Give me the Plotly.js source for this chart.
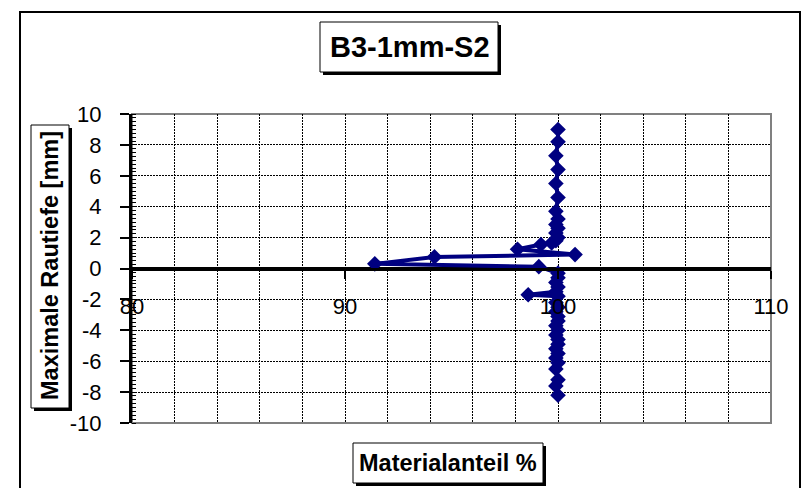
<!DOCTYPE html>
<html>
<head>
<meta charset="utf-8">
<script src="https://cdn.plot.ly/plotly-3.0.1.min.js"></script>
<style>html,body{margin:0;padding:0;background:#fff;}#chart{width:803px;height:488px;}</style>
</head>
<body>
<div id="chart"></div>
<script>
// ---- data ----
const chartTitle = "B3-1mm-S2";
const xTitle = "Materialanteil %";
const yTitle = "Maximale Rautiefe [mm]";
const xRange = [80, 110];
const yRange = [-10, 10];
const xTickVals = [80, 90, 100, 110];
const xTickText = ["80", "90", "100", "110"];
const yTickVals = [-10, -8, -6, -4, -2, 0, 2, 4, 6, 8, 10];
const yTickText = ["-10", "-8", "-6", "-4", "-2", "0", "2", "4", "6", "8", "10"];
const materialanteil = [
  100.0, 100.0, 99.9, 100.0, 99.9, 100.0, 99.9, 100.0, 99.9, 100.0, 99.9, 100.0, 99.9, 99.7, 99.2, 98.1,
  100.8, 94.2, 91.4, 99.1,
  100.0, 100.0, 99.9, 100.0, 99.9, 98.6, 100.0, 99.9, 100.0, 99.9, 100.0, 100.0, 99.9, 100.0, 99.9,
  100.0, 100.0, 99.9, 100.0, 99.9, 100.0, 99.9, 100.0, 99.9, 100.0
];
const rautiefe = [
  9.0, 8.2, 7.3, 6.4, 5.5, 4.6, 3.7, 3.2, 2.85, 2.6, 2.3, 2.0, 1.8, 1.65, 1.55, 1.25,
  0.9, 0.75, 0.3, 0.12,
  -0.3, -0.6, -0.9, -1.2, -1.5, -1.7, -1.8, -2.2, -2.5, -2.8, -3.1, -3.4, -3.7, -4.0, -4.3,
  -4.6, -4.9, -5.2, -5.5, -5.8, -6.1, -6.5, -7.2, -7.6, -8.2
];

// ---- layout helpers (pixel -> paper) ----
const W = 803, H = 488;
const M = {l: 132, r: 32, t: 114, b: 65};
const PW = W - M.l - M.r, PH = H - M.t - M.b;
const px = v => (v - M.l) / PW;
const py = v => (H - M.b - v) / PH;
const FONT = "Liberation Sans, Arial, sans-serif";
const GRID_DASH = '2px,1px';

function box(x0, y0, x1, y1, sh) {
  return [
    {type: 'rect', xref: 'paper', yref: 'paper', layer: 'above',
     x0: px(x0 + sh), x1: px(x1 + sh), y0: py(y0 + sh), y1: py(y1 + sh),
     fillcolor: '#000', line: {color: '#000', width: 0}},
    {type: 'rect', xref: 'paper', yref: 'paper', layer: 'above',
     x0: px(x0), x1: px(x1), y0: py(y0), y1: py(y1),
     fillcolor: '#fff', line: {color: '#000', width: 1}}
  ];
}

const shapes = [
  {type: 'rect', xref: 'paper', yref: 'paper', layer: 'below',
   x0: px(20), x1: px(800), y0: py(495), y1: py(12),
   line: {color: '#000', width: 2}, fillcolor: 'rgba(0,0,0,0)'},
  {type: 'rect', xref: 'paper', yref: 'paper', layer: 'below',
   x0: 0, x1: 1, y0: 0, y1: 1, line: {color: '#808080', width: 2}, fillcolor: 'rgba(0,0,0,0)'},
  ...box(320, 22, 498, 72, 3),
  ...box(353, 443, 543, 483, 3),
  ...box(31, 125, 69, 408, 3)
];

const annotations = [
  {text: '<b>' + chartTitle + '</b>', xref: 'paper', yref: 'paper', x: px(410), y: py(47),
   xanchor: 'center', yanchor: 'middle', showarrow: false, font: {family: FONT, size: 29, color: '#000'}},
  {text: '<b>' + xTitle + '</b>', xref: 'paper', yref: 'paper', x: px(448), y: py(463),
   xanchor: 'center', yanchor: 'middle', showarrow: false, font: {family: FONT, size: 23.5, color: '#000'}},
  {text: '<b>' + yTitle + '</b>', xref: 'paper', yref: 'paper', x: px(50), y: py(266), textangle: -90,
   xanchor: 'center', yanchor: 'middle', showarrow: false, font: {family: FONT, size: 23.5, color: '#000'}}
];

const trace = {
  x: materialanteil, y: rautiefe, type: 'scatter', mode: 'lines+markers',
  line: {color: '#000080', width: 4},
  marker: {symbol: 'diamond', size: 12, color: '#000080'},
  cliponaxis: false, hoverinfo: 'skip'
};

const layout = {
  width: W, height: H,
  margin: M,
  paper_bgcolor: '#fff', plot_bgcolor: '#fff',
  showlegend: false,
  font: {family: FONT, color: '#000'},
  xaxis: {
    range: xRange, tickmode: 'array', tickvals: xTickVals, ticktext: xTickText,
    anchor: 'free', position: 0.5,
    showline: true, linecolor: '#000', linewidth: 3,
    ticks: 'outside', ticklen: 8, tickwidth: 2, tickcolor: '#000',
    ticklabelstandoff: 9,
    tickfont: {family: FONT, size: 22, color: '#000'},
    showgrid: true, gridcolor: '#000', gridwidth: 1, griddash: GRID_DASH,
    zeroline: false,
    minor: {dtick: 2, tick0: 80, showgrid: true, gridcolor: '#000', gridwidth: 1, griddash: GRID_DASH, ticks: ''}
  },
  yaxis: {
    range: yRange, tickmode: 'array', tickvals: yTickVals, ticktext: yTickText,
    showline: true, linecolor: '#000', linewidth: 3,
    ticks: 'outside', ticklen: 9, tickwidth: 2, tickcolor: '#000',
    ticklabelstandoff: 14,
    tickfont: {family: FONT, size: 22, color: '#000'},
    showgrid: true, gridcolor: '#000', gridwidth: 1, griddash: GRID_DASH,
    zeroline: true, zerolinecolor: '#000', zerolinewidth: 3,
    minor: {dtick: 0.25, tick0: 0, ticks: 'inside', ticklen: 4, tickwidth: 1, tickcolor: '#000', showgrid: false}
  },
  shapes: shapes,
  annotations: annotations
};

Plotly.newPlot('chart', [trace], layout, {staticPlot: true, displayModeBar: false});
</script>
</body>
</html>
